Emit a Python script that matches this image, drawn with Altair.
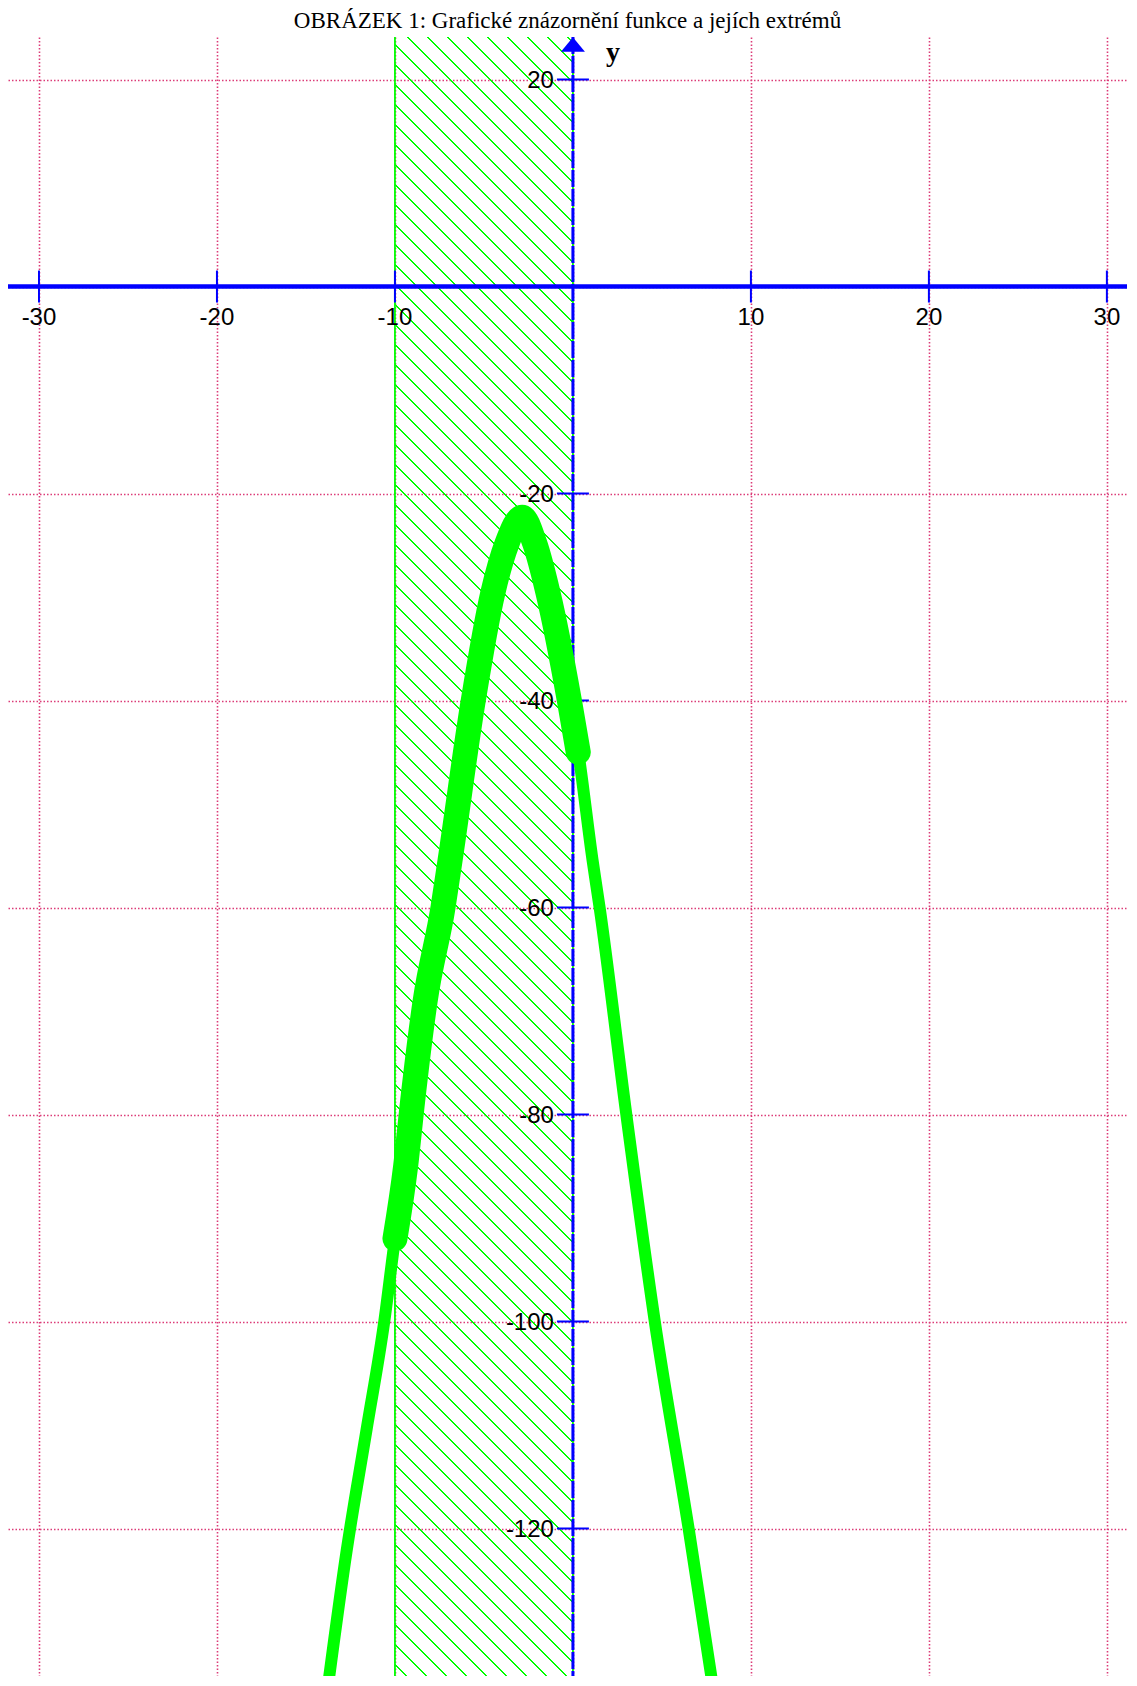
import altair as alt
import pandas as pd

# ---------------- data ----------------
title_text = "OBRÁZEK 1: Grafické znázornění funkce a jejích extrémů"

curve_x = [-13.8, -12.7, -11.6, -10.6, -10.0, -9.4, -9.0, -8.3, -7.3, -6.9,
           -5.6, -4.5, -3.7, -2.85, -2.15, -1.4, -0.2, 0.3, 1.1, 1.5,
           3.0, 4.6, 6.5, 7.9]
curve_y = [-135.7, -122.0, -110.5, -100.0, -92.0, -85.0, -78.6, -69.0, -60.0, -55.4,
           -40.0, -29.6, -24.8, -22.3, -24.8, -29.6, -40.0, -45.0, -55.4, -60.0,
           -80.0, -100.0, -120.0, -135.7]

thick_from = -10.0   # highlighted (thicker) part of the curve
thick_to = 0.3

band = [-10, 0]      # hatched interval

x_grid = [-30, -20, -10, 0, 10, 20, 30]
y_grid = [20, 0, -20, -40, -60, -80, -100, -120]
x_ticks = [-30, -20, -10, 10, 20, 30]
y_ticks = [20, -20, -40, -60, -80, -100, -120]
origin = [0]

# ---------------- layout / style ----------------
X_DOMAIN = [-31.74, 31.13]
Y_DOMAIN = [-134.25, 24.11]
PW, PH, TOP = 1119, 1639, 29

GREEN = "#00ff00"
BLUE = "#0000ff"
GRID = "#dc3c78"
CLEAR = "rgba(0,255,0,0)"

xs = alt.Scale(domain=X_DOMAIN, nice=False, zero=False)
ys = alt.Scale(domain=Y_DOMAIN, nice=False, zero=False)

gx = alt.Axis(values=x_grid, grid=True, labels=False, ticks=False, domain=False,
              title=None, gridColor=GRID, gridDash=[1.5, 2], gridWidth=1.6)
gy = alt.Axis(values=y_grid, grid=True, labels=False, ticks=False, domain=False,
              title=None, gridColor=GRID, gridDash=[1.5, 2], gridWidth=1.6)


def X(f):
    return alt.X(f, type="quantitative", scale=xs, axis=gx)


def Y(f):
    return alt.Y(f, type="quantitative", scale=ys, axis=gy)


# ---- hatch pattern as a striped linear gradient (45 degree lines) ----
W = (band[1] - band[0]) * PW / (X_DOMAIN[1] - X_DOMAIN[0])
H = PH
L = W + H
s = L / (W ** 2 + H ** 2)
gx1, gy1 = 0.0, 1.0
gx2, gy2 = W * s, 1.0 - H * s
spacing = 20.0
stripe = 2.2
phase = (H - 7.3) % spacing
stops = [alt.GradientStop(color=CLEAR, offset=0)]
pos = phase
while pos < L:
    a = max(0.0, (pos - stripe / 2) / L)
    b = min(1.0, (pos + stripe / 2) / L)
    stops += [alt.GradientStop(color=CLEAR, offset=a),
              alt.GradientStop(color=GREEN, offset=a),
              alt.GradientStop(color=GREEN, offset=b),
              alt.GradientStop(color=CLEAR, offset=b)]
    pos += spacing
stops.append(alt.GradientStop(color=CLEAR, offset=1))
hatch = alt.LinearGradient(gradient="linear", stops=stops,
                           x1=gx1, y1=gy1, x2=gx2, y2=gy2)

# ---------------- tables ----------------
curve_df = pd.DataFrame({"x": curve_x, "y": curve_y})
band_df = pd.DataFrame({"x0": [band[0]], "x1": [band[1]]})
band_edges = pd.DataFrame({"v": band})
origin_df = pd.DataFrame({"v": origin})
xt_df = pd.DataFrame({"v": x_ticks, "z": [0] * len(x_ticks),
                      "lab": [str(v) for v in x_ticks]})
yt_df = pd.DataFrame({"v": y_ticks, "z": [0] * len(y_ticks),
                      "lab": [str(v) for v in y_ticks]})

# ---------------- layers ----------------
band_rect = alt.Chart(band_df).mark_rect(fill=hatch, strokeWidth=0).encode(
    x=X("x0"), x2="x1", y=alt.value(0), y2=alt.value(PH))

band_lines = alt.Chart(band_edges).mark_rule(color=GREEN, strokeWidth=1.8).encode(
    x=X("v"), y=alt.value(0), y2=alt.value(PH))

x_axis_line = alt.Chart(origin_df).mark_rule(color=BLUE, strokeWidth=4.5).encode(
    y=Y("v"), x=alt.value(0), x2=alt.value(PW))

y_axis_line = alt.Chart(origin_df).mark_rule(
    color=BLUE, strokeWidth=3, strokeDash=[17, 2]).encode(
    x=X("v"), y=alt.value(0), y2=alt.value(PH))

x_tick_marks = alt.Chart(xt_df).mark_tick(
    orient="vertical", size=32, thickness=2, color=BLUE, opacity=1).encode(
    x=X("v"), y=Y("z"))

y_tick_marks = alt.Chart(yt_df).mark_tick(
    orient="horizontal", size=32, thickness=2, color=BLUE, opacity=1).encode(
    x=X("z"), y=Y("v"))

thin_curve = alt.Chart(curve_df).mark_line(
    color=GREEN, strokeWidth=12, interpolate="monotone", clip=True).encode(
    x=X("x"), y=Y("y"))

thick_curve = alt.Chart(curve_df).transform_filter(
    (alt.datum.x >= thick_from) & (alt.datum.x <= thick_to)
).mark_line(color=GREEN, strokeWidth=25, interpolate="monotone",
            strokeCap="round", clip=True).encode(
    x=X("x"), y=Y("y"))

x_labels = alt.Chart(xt_df).mark_text(
    font="Liberation Sans", fontSize=24, color="black", align="center",
    baseline="middle", dy=31).encode(
    x=X("v"), y=Y("z"), text="lab:N")

y_labels = alt.Chart(yt_df).mark_text(
    font="Liberation Sans", fontSize=24, color="black", align="right",
    baseline="middle", dx=-19, dy=1).encode(
    x=X("z"), y=Y("v"), text="lab:N")

arrow = alt.Chart(origin_df).mark_point(
    shape="M0,-0.6L1,0.6L-1,0.6Z", filled=True, size=576, color=BLUE,
    opacity=1, strokeWidth=0).encode(
    x=X("v"), y=alt.value(7.5))

y_name = alt.Chart(origin_df).mark_text(
    text="y", font="Liberation Serif", fontSize=28, fontWeight="bold",
    color="black", align="center", baseline="alphabetic", dx=40).encode(
    x=X("v"), y=alt.value(24))

chart = alt.layer(
    band_rect, band_lines, y_axis_line, x_axis_line, x_tick_marks, y_tick_marks,
    thin_curve, thick_curve, arrow, x_labels, y_labels, y_name
).properties(
    width=PW, height=PH,
    title=alt.Title(title_text, font="Liberation Serif", fontSize=23,
                    fontWeight="normal", color="black", anchor="middle", offset=3),
    padding={"left": 0, "right": 0, "top": TOP, "bottom": 0},
    autosize="none",
    background="white",
).configure_view(stroke=None)

chart.save("out.html", embed_options={"renderer": "svg", "actions": False})
